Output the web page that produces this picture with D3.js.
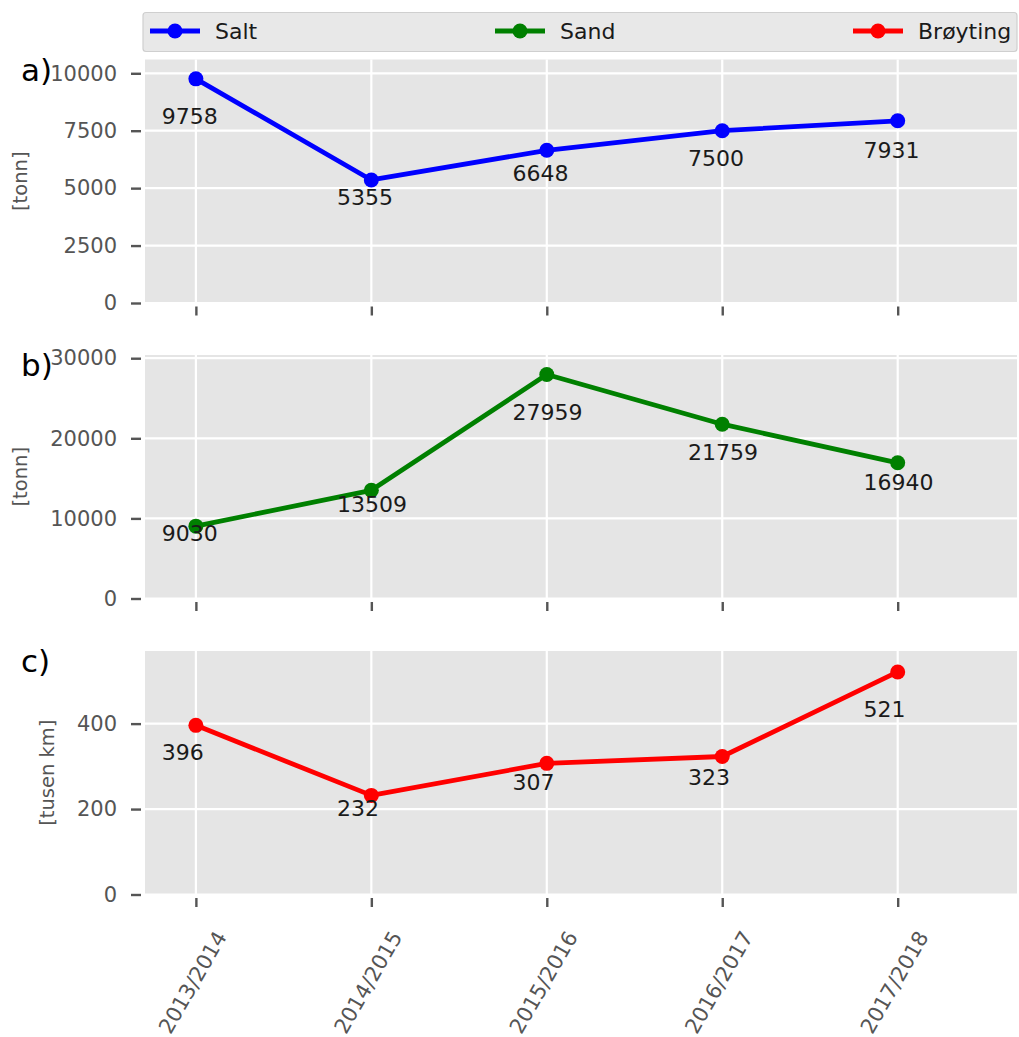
<!DOCTYPE html>
<html>
<head>
<meta charset="utf-8">
<script src="https://cdn.jsdelivr.net/npm/d3@7"></script>
<style>
  html, body { margin: 0; padding: 0; background: #ffffff; }
  svg { display: block; font-family: "DejaVu Sans", sans-serif; }
</style>
</head>
<body>
<svg id="chart" width="1019" height="1037"></svg>
<script>
// ---- data ----
const categories = ["2013/2014", "2014/2015", "2015/2016", "2016/2017", "2017/2018"];
const saltValues = [9758, 5355, 6648, 7500, 7931];
const sandValues = [9030, 13509, 27959, 21759, 16940];
const broytingValues = [396, 232, 307, 323, 521];
const saltTicks = [0, 2500, 5000, 7500, 10000];
const sandTicks = [0, 10000, 20000, 30000];
const broytingTicks = [0, 200, 400];
const seriesNames = ["Salt", "Sand", "Brøyting"];
const panelLetters = ["a)", "b)", "c)"];
const unitLabels = ["[tonn]", "[tonn]", "[tusen km]"];
const yLimits = [10600, 30400, 570];

// ---- layout / style ----
const colors = ["#0000ff", "#008000", "#ff0000"];
const plotLeft = 145, plotRight = 1017;
const panelTops = [59.5, 355, 651];
const panelHeight = 243.5;
const tickColor = "#555555";

const panels = [
  { name: seriesNames[0], values: saltValues, ticks: saltTicks },
  { name: seriesNames[1], values: sandValues, ticks: sandTicks },
  { name: seriesNames[2], values: broytingValues, ticks: broytingTicks }
].map((p, i) => Object.assign(p, {
  color: colors[i], letter: panelLetters[i], unit: unitLabels[i], ymax: yLimits[i], top: panelTops[i]
}));

const svg = d3.select("#chart");
const x = d3.scaleLinear().domain([-0.29, 4.68]).range([plotLeft, plotRight]);
const idx = d3.range(categories.length);

panels.forEach((p, pi) => {
  const bottom = p.top + panelHeight;
  const y = d3.scaleLinear().domain([0, p.ymax]).range([bottom, p.top]);
  const g = svg.append("g");

  // background
  g.append("rect")
    .attr("x", plotLeft).attr("y", p.top)
    .attr("width", plotRight - plotLeft).attr("height", panelHeight)
    .attr("fill", "#e5e5e5");

  // grid
  g.selectAll(".hgrid").data(p.ticks).join("line")
    .attr("x1", plotLeft).attr("x2", plotRight)
    .attr("y1", d => y(d)).attr("y2", d => y(d))
    .attr("stroke", "#ffffff").attr("stroke-width", 2.2);
  g.selectAll(".vgrid").data(idx).join("line")
    .attr("x1", d => x(d)).attr("x2", d => x(d))
    .attr("y1", p.top).attr("y2", bottom)
    .attr("stroke", "#ffffff").attr("stroke-width", 2.2);

  // y axis
  const yAxis = d3.axisLeft(y).tickValues(p.ticks).tickSize(10).tickPadding(14).tickFormat(d3.format("d"));
  const ya = g.append("g").attr("transform", `translate(${plotLeft - 4},0)`).call(yAxis);
  ya.select(".domain").remove();
  ya.selectAll(".tick line").attr("stroke", tickColor).attr("stroke-width", 2.4);
  ya.selectAll(".tick text").attr("fill", tickColor).attr("font-size", "21px")
    .attr("font-family", "DejaVu Sans, sans-serif");

  // x axis ticks
  const xAxis = d3.axisBottom(x).tickValues(idx).tickSize(9).tickFormat("");
  const xa = g.append("g").attr("transform", `translate(0,${bottom + 3.5})`).call(xAxis);
  xa.select(".domain").remove();
  xa.selectAll(".tick line").attr("stroke", tickColor).attr("stroke-width", 2.4);

  // y label
  const bb = ya.node().getBBox();
  const labelX = plotLeft - 4 + bb.x - 23;
  g.append("text")
    .attr("transform", `translate(${labelX},${p.top + panelHeight / 2}) rotate(-90)`)
    .attr("text-anchor", "middle")
    .attr("fill", tickColor)
    .attr("font-size", "19.5px")
    .text(p.unit);

  // panel letter
  g.append("text")
    .attr("x", 21).attr("y", p.top + 21)
    .attr("font-size", "31px").attr("fill", "#000")
    .text(p.letter);

  // line
  const line = d3.line().x((d, i) => x(i)).y(d => y(d));
  g.append("path").datum(p.values)
    .attr("d", line).attr("fill", "none")
    .attr("stroke", p.color).attr("stroke-width", 4.8)
    .attr("stroke-linejoin", "round");
  g.selectAll(".pt").data(p.values).join("circle")
    .attr("cx", (d, i) => x(i)).attr("cy", d => y(d)).attr("r", 7.5)
    .attr("fill", p.color);

  // annotations
  g.selectAll(".ann").data(p.values).join("text")
    .attr("x", (d, i) => x(i - 0.195))
    .attr("y", d => y(d * 0.797))
    .attr("font-size", "22px").attr("fill", "#1a1a1a")
    .text(d => d);

  // x tick labels on last panel
  if (pi === panels.length - 1) {
    g.selectAll(".xl").data(categories).join("text")
      .attr("transform", (d, i) => `translate(${x(i) - 3},${bottom + 88}) rotate(-60)`)
      .attr("text-anchor", "middle")
      .attr("dominant-baseline", "central")
      .attr("font-size", "21px").attr("fill", tickColor)
      .text(d => d);
  }
});

// ---- legend ----
const lg = svg.append("g");
lg.append("rect")
  .attr("x", 143).attr("y", 12.5).attr("width", 874).attr("height", 39)
  .attr("rx", 3)
  .attr("fill", "#e8e8e8").attr("stroke", "#cfcfcf").attr("stroke-width", 1.2);
const handleX = [150, 495, 853];
panels.forEach((p, i) => {
  const hx = handleX[i];
  lg.append("line").attr("x1", hx).attr("x2", hx + 50).attr("y1", 31).attr("y2", 31)
    .attr("stroke", p.color).attr("stroke-width", 4.8);
  lg.append("circle").attr("cx", hx + 25).attr("cy", 31).attr("r", 7.5).attr("fill", p.color);
  lg.append("text").attr("x", hx + 65).attr("y", 39)
    .attr("font-size", "22px").attr("fill", "#1a1a1a").text(p.name);
});
</script>
</body>
</html>
